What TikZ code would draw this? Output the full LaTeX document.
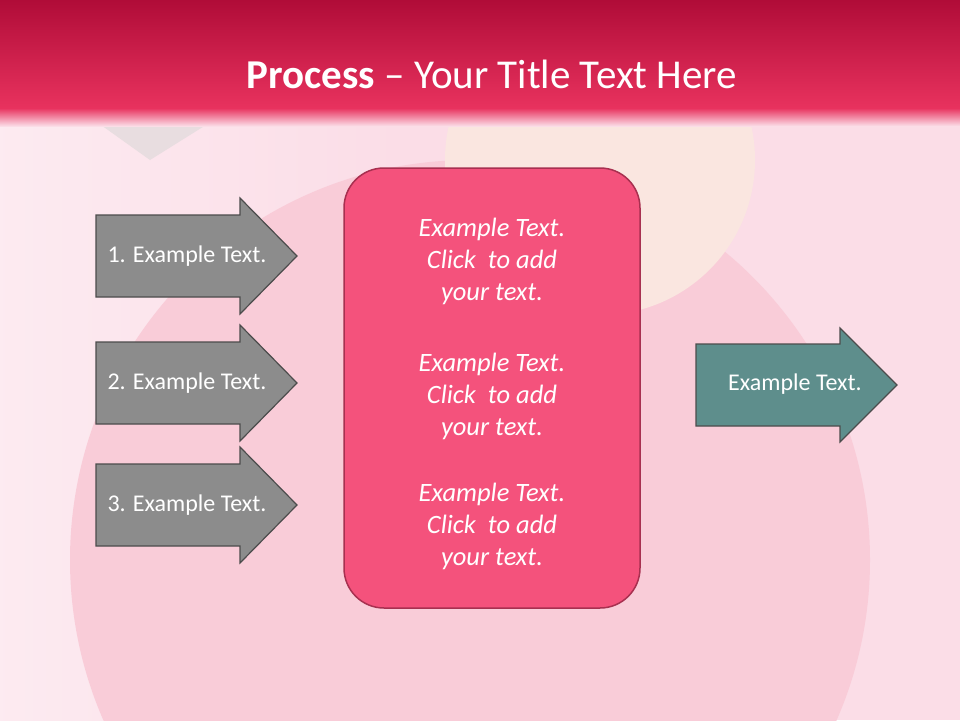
\documentclass[tikz,border=0pt]{standalone}
\usepackage{fontspec}
\setmainfont{Carlito}
\begin{document}
\begin{tikzpicture}[x=1pt,y=-1pt,
  garrow/.style={draw=black!70,line width=1.2pt},
  ttext/.style={text=white,font=\fontsize{24}{28}\selectfont},
  btext/.style={text=white,font=\itshape\fontsize{26.5}{32}\selectfont,align=center}]
\definecolor{bg}{HTML}{FBDDE7}
\definecolor{hdtop}{HTML}{B00C38}
\definecolor{hdbot}{HTML}{E8325E}
\definecolor{boxf}{HTML}{F4527C}
\definecolor{boxd}{HTML}{A83050}
\definecolor{teal}{HTML}{5E8E8C}
\definecolor{grayf}{HTML}{8C8C8C}
\definecolor{circ}{HTML}{F9CCD8}
\definecolor{beige}{HTML}{FAE6E0}
\definecolor{sh}{HTML}{E8DDE0}
\useasboundingbox (0,0) rectangle (960,720);
\fill[bg] (0,0) rectangle (960,720);
\shade[left color=white!40!bg,right color=bg] (0,110) rectangle (400,720);
\begin{scope}
\clip (0,110) rectangle (960,720);
\fill[circ] (470,560) circle (400);
\fill[beige] (600,160) circle (155);
\fill[sh] (80,110) -- (230,110) -- (150,160) -- cycle;
\end{scope}
\shade[top color=hdtop,bottom color=hdbot] (0,0) rectangle (960,108);
\shade[top color=hdbot,bottom color=bg] (0,108) rectangle (960,126);
\node[text=white,font=\fontsize{41}{46}\selectfont] (title) at (492,74) {\textbf{Process} -- Your Title Text Here};
\foreach \n/\c/\t in {a1/256/1. Example Text.,a2/383/2. Example Text.,a3/505/3. Example Text.}{
  \draw[garrow,fill=grayf] (96,\c-41) -- (240,\c-41) -- (240,\c-58) -- (297,\c) -- (240,\c+58) -- (240,\c+41) -- (96,\c+41) -- cycle;
  \node[ttext] (\n) at (187,\c) {\t};
}
\draw[garrow,fill=teal] (696,344) -- (840,344) -- (840,328) -- (897,385) -- (840,442) -- (840,426) -- (696,426) -- cycle;
\node[ttext] (r) at (795,384) {Example Text.};
\draw[fill=boxf,draw=boxd,line width=1.5pt,rounded corners=40pt] (344,168) rectangle (640,608);
\node[btext] (b1) at (492,261) {Example Text.\\Click\ \ to add\\your text.};
\node[btext] (b2) at (492,396) {Example Text.\\Click\ \ to add\\your text.};
\node[btext] (b3) at (492,526) {Example Text.\\Click\ \ to add\\your text.};
\end{tikzpicture}
\end{document}
